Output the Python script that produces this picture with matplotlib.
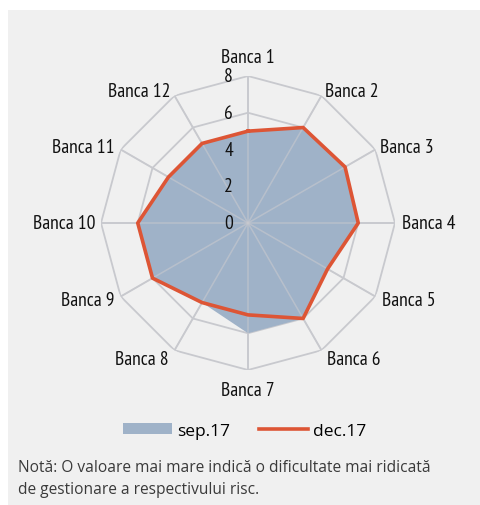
import numpy as np
import matplotlib.pyplot as plt
from matplotlib.patches import Patch, Rectangle
from matplotlib.lines import Line2D

categories = ["Banca 1", "Banca 2", "Banca 3", "Banca 4", "Banca 5", "Banca 6",
              "Banca 7", "Banca 8", "Banca 9", "Banca 10", "Banca 11", "Banca 12"]
sep17 = [5.0, 6.0, 6.1, 6.0, 5.0, 6.0, 6.0, 5.0, 6.0, 6.0, 5.0, 5.0]
dec17 = [5.0, 6.0, 6.1, 6.0, 5.0, 6.0, 5.0, 5.0, 6.0, 6.0, 5.0, 5.0]
ticks = [0, 2, 4, 6, 8]

BG = "#f0f0f0"
GRID = "#c8c9ce"
BLUE = "#9fb2c8"
RED = "#dd5535"
narrow = ["PT Sans Narrow", "Roboto Condensed", "DejaVu Sans"]
plain = ["Open Sans", "DejaVu Sans"]

# label placement around the outer ring: (dx px, dy px, ha, va)
label_pos = [(0, 14, "center", "baseline"), (4, 0, "left", "baseline"),
             (5, 3, "left", "center"), (7, 0, "left", "center"),
             (7, -3, "left", "center"), (6, 0, "left", "top"),
             (0, -11, "center", "top"), (-6, 0, "right", "top"),
             (-6, -3, "right", "center"), (-5, 0, "right", "center"),
             (-6, 3, "right", "center"), (-4, 0, "right", "baseline")]

fig = plt.figure(figsize=(4.8, 5.06), dpi=100)
fig.patches.append(Rectangle((8 / 480, 0), 1, 1 - 11 / 506, transform=fig.transFigure,
                             facecolor=BG, edgecolor="none", zorder=-10))

ax = fig.add_axes([0.2104, 0.2668, 0.6125, 0.581], projection="polar")
ax.set_facecolor("none")
ax.set_theta_zero_location("N")
ax.set_theta_direction(-1)
ax.set_ylim(0, 8)
ax.grid(False)
ax.spines["polar"].set_visible(False)
ax.set_xticks([])
ax.set_yticks([])

n = len(categories)
ang = np.linspace(0, 2 * np.pi, n, endpoint=False)
closed = np.append(ang, ang[0])

# polygon grid + spokes
for t in ticks[1:]:
    ax.plot(closed, [t] * (n + 1), color=GRID, lw=1.3, zorder=1)
for a in ang:
    ax.plot([a, a], [0, 8], color=GRID, lw=1.3, zorder=1)

ax.fill(closed, np.append(sep17, sep17[0]), color=BLUE, lw=0, zorder=2)
for a in ang:
    ax.plot([a, a], [0, 8], color=GRID, lw=1.1, alpha=0.6, zorder=3)
ax.plot(closed, np.append(dec17, dec17[0]), color=RED, lw=2.6, zorder=4)

for t in ticks:
    ax.annotate(str(t), xy=(0, t), xytext=(-15, 0), textcoords="offset pixels",
                ha="right", va="center", fontsize=14, family=narrow, color="#111111", zorder=5)

for a, lab, (dx, dy, ha, va) in zip(ang, categories, label_pos):
    ax.annotate(lab, xy=(a, 8), xytext=(dx, dy), textcoords="offset pixels",
                ha=ha, va=va, fontsize=14, family=narrow, color="#111111")

handles = [Patch(facecolor=BLUE, edgecolor="none"), Line2D([], [], color=RED, lw=2.6)]
fig.legend(handles, ["sep.17", "dec.17"], loc="center", bbox_to_anchor=(0.51, 1 - 432 / 506),
           ncol=2, frameon=False, handlelength=2.8, handleheight=0.6, columnspacing=1.7,
           handletextpad=0.3, prop={"family": plain, "size": 12.5})

fig.text(18 / 480, 1 - 468 / 506, "Notă: O valoare mai mare indică o dificultate mai ridicată",
         ha="left", va="center", fontsize=11.2, family=plain, color="#3a3a3a")
fig.text(18 / 480, 1 - 490 / 506, "de gestionare a respectivului risc.",
         ha="left", va="center", fontsize=11.2, family=plain, color="#3a3a3a")

fig.savefig("out.png", dpi=100, facecolor="white")
